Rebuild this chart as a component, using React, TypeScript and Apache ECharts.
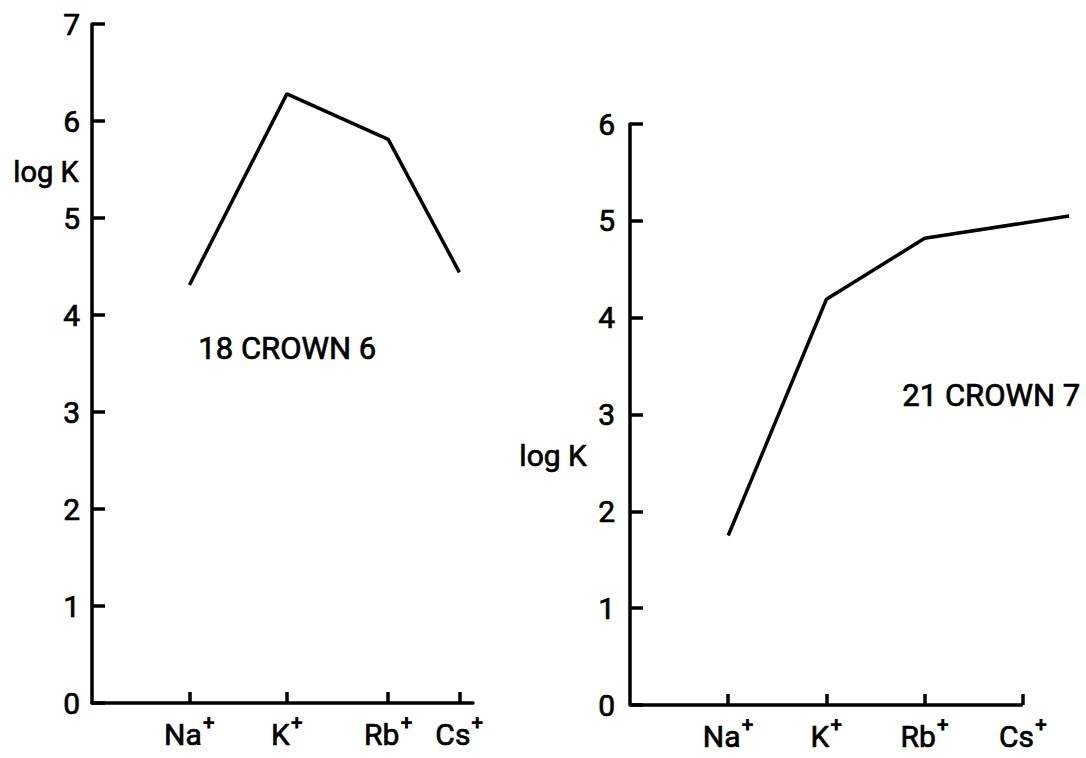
import React, { useEffect, useRef } from "react";
import * as echarts from "echarts";

// ---- data ----
const ions = ["Na", "K", "Rb", "Cs"];
// position of each cation on the horizontal axis (left panel is not evenly spaced)
const leftIonPositions = [1, 2, 3.04, 3.77];
const leftLogK = [4.31, 6.28, 5.81, 4.44];
const rightIonPositions = [1, 2, 3, 4];
const rightLineX = [1, 2, 3, 4.47];
const rightLogK = [1.75, 4.19, 4.82, 5.05];
const leftYMax = 7;
const rightYMax = 6;
const leftTitle = "18 CROWN 6";
const rightTitle = "21 CROWN 7";
const yName = "log K";

const FONT = "Roboto";
const INK = "#000";
const BORDER = { textBorderColor: INK, textBorderWidth: 0.7 };

function ionFormatter(positions: number[]) {
  return (value: number) => {
    const idx = positions.findIndex((p) => Math.abs(p - value) < 1e-6);
    if (idx < 0) return "";
    return `{b|${ions[idx]}}{s|+}`;
  };
}

const rich = {
  b: { fontSize: 30, fontFamily: FONT, color: INK, lineHeight: 38, verticalAlign: "bottom", ...BORDER },
  s: { fontSize: 22, fontFamily: FONT, fontWeight: "bold", color: INK, lineHeight: 22, verticalAlign: "top", padding: [0, 0, 0, 1] },
};

function xAxisFor(gridIndex: number, max: number, positions: number[], showLine: boolean) {
  return {
    type: "value",
    gridIndex,
    min: 0,
    max,
    splitLine: { show: false },
    axisLine: { show: showLine, lineStyle: { color: INK, width: 3.5 } },
    axisTick: { show: true, inside: true, length: 11, lineStyle: { color: INK, width: 3.5 }, customValues: positions },
    axisLabel: { show: true, margin: 8, customValues: positions, formatter: ionFormatter(positions), rich },
  };
}

function yAxisFor(gridIndex: number, max: number, margin: number) {
  return {
    type: "value",
    gridIndex,
    min: 0,
    max,
    interval: 1,
    splitLine: { show: false },
    axisLine: { show: true, lineStyle: { color: INK, width: 3.5 } },
    axisTick: { show: true, inside: true, length: 13, lineStyle: { color: INK, width: 3.5 } },
    axisLabel: { show: true, margin, fontSize: 30, fontFamily: FONT, color: INK, ...BORDER },
  };
}

export default function App() {
  const ref = useRef<HTMLDivElement>(null);

  useEffect(() => {
    if (!ref.current) return;
    const chart = echarts.init(ref.current, null, { renderer: "svg" });
    const rightAxisEnd = rightIonPositions[rightIonPositions.length - 1];
    const option: any = {
      animation: false,
      backgroundColor: "#fff",
      grid: [
        { left: 92, top: 24, width: 381, height: 679, outerBoundsMode: "none" },
        // right panel: 4 units = 393 px, extended to 4.5 units so the curve can run past Cs+
        { left: 630, top: 124, width: 442, height: 581, outerBoundsMode: "none" },
      ],
      xAxis: [xAxisFor(0, 3.91, leftIonPositions, true), xAxisFor(1, 4.5, rightIonPositions, false)],
      yAxis: [yAxisFor(0, leftYMax, 12), yAxisFor(1, rightYMax, 15)],
      series: [
        {
          type: "line",
          xAxisIndex: 0,
          yAxisIndex: 0,
          data: leftIonPositions.map((x, i) => [x, leftLogK[i]]),
          symbol: "none",
          lineStyle: { color: INK, width: 3.5 },
        },
        {
          type: "line",
          xAxisIndex: 1,
          yAxisIndex: 1,
          data: rightLineX.map((x, i) => [x, rightLogK[i]]),
          symbol: "none",
          lineStyle: { color: INK, width: 3.5 },
          markLine: {
            silent: true,
            symbol: ["none", "none"],
            label: { show: false },
            lineStyle: { color: INK, width: 3.5, type: "solid" },
            data: [[{ coord: [0, 0] }, { coord: [rightAxisEnd, 0] }]],
          },
        },
      ],
      graphic: [
        { type: "text", left: 13, top: 157, style: { text: yName, fontSize: 29, fontFamily: FONT, fill: INK, stroke: INK, lineWidth: 0.7 } },
        { type: "text", left: 519, top: 440, style: { text: yName, fontSize: 30, fontFamily: FONT, fill: INK, stroke: INK, lineWidth: 0.7 } },
        { type: "text", left: 198, top: 333, style: { text: leftTitle, fontSize: 31, fontFamily: FONT, fill: INK, stroke: INK, lineWidth: 0.7 } },
        { type: "text", left: 902, top: 380, style: { text: rightTitle, fontSize: 31, fontFamily: FONT, fill: INK, stroke: INK, lineWidth: 0.7 } },
      ],
    };
    chart.setOption(option);
    return () => chart.dispose();
  }, []);

  return (
    <div
      ref={ref}
      style={{ position: "fixed", left: 0, top: 0, width: 1086, height: 758, background: "#fff" }}
    />
  );
}
